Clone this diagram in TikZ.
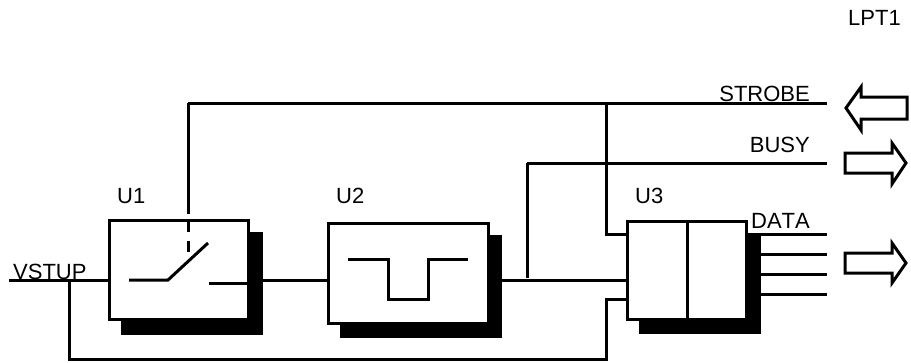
\documentclass[tikz,border=0pt]{standalone}
\usepackage{fontspec}
\setmainfont[Kerning=Off]{Liberation Sans}
\tikzset{
  wire/.style={line width=3pt},
  box/.style={draw,fill=white,line width=3pt,inner sep=0pt,outer sep=0pt},
  shade box/.style={fill=black,inner sep=0pt,outer sep=0pt},
  lbl/.style={anchor=base west,inner sep=0pt,font=\fontsize{22}{26}\selectfont},
  lblr/.style={anchor=base east,inner sep=0pt,font=\fontsize{22}{26}\selectfont},
  bigarrow/.style={line width=3pt,fill=white,line join=miter}
}
\begin{document}
\begin{tikzpicture}[x=1pt,y=-1pt]
\useasboundingbox (0,0) rectangle (911,362);
% named terminals and junctions
\coordinate (vin) at (9,280);
\coordinate (jv) at (69,280);
\coordinate (bl) at (69,359);
\coordinate (br) at (606,359);
\coordinate (u3c) at (627,299);
\coordinate (u3c0) at (606,299);
\coordinate (u3a) at (627,280);
\coordinate (jb) at (527,280);
\coordinate (bc) at (527,163);
\coordinate (be) at (827,163);
\coordinate (sc) at (188,103);
\coordinate (se) at (827,103);
\coordinate (js) at (606,103);
\coordinate (u3b0) at (606,234);
\coordinate (u3b) at (627,234);
\coordinate (d0) at (761,234);\coordinate (d0e) at (827,234);
\coordinate (d1) at (761,254);\coordinate (d1e) at (827,254);
\coordinate (d2) at (761,274);\coordinate (d2e) at (827,274);
\coordinate (d3) at (761,294);\coordinate (d3e) at (827,294);
\coordinate (s1) at (188,214);
\coordinate (s2) at (188,220);\coordinate (s3) at (188,232);
\coordinate (s4) at (188,241);\coordinate (s5) at (188,252);
% shadows
\node[shade box,minimum width=142pt,minimum height=103pt] (sh1) at (192,283.5) {};
\node[shade box,minimum width=162pt,minimum height=103pt] (sh2) at (421,286.5) {};
\node[shade box,minimum width=122pt,minimum height=101pt] (sh3) at (700,283.5) {};
% wires behind boxes
\draw[wire] (vin) -- (109,280);
\draw[wire] (263,280) -- (328,280);
\draw[wire] (502,280) -- (u3a);
\draw[wire] (jv) -- (bl) -- (br) -- (u3c0) -- (u3c);
\draw[wire] (sc) -- (se);
\draw[wire] (sc) -- (s1);
\draw[wire] (js) -- (u3b0) -- (u3b);
\draw[wire] (bc) -- (be);
\draw[wire] (bc) -- ([yshift=2pt]jb);
\draw[wire] (d0) -- (d0e);
\draw[wire] (d1) -- (d1e);
\draw[wire] (d2) -- (d2e);
\draw[wire] (d3) -- (d3e);
% boxes
\node[box,minimum width=139pt,minimum height=99pt] (U1) at (178.5,269.5) {};
\node[box,minimum width=160pt,minimum height=100pt] (U2) at (408,273) {};
\node[box,minimum width=119pt,minimum height=98pt] (U3) at (686.5,270) {};
\draw[wire] (U3.north) ++(0.5,0) -- ([xshift=0.5pt]U3.south);
% switch
\draw[wire] (s2) -- (s3);
\draw[wire] (s4) -- (s5);
\draw[wire] (129,280) -- (168,280) -- (208,243);
\draw[wire] (209,283) -- (248,283);
% pulse
\draw[wire] (348,259) -- (388,259) -- (388,299) -- (428,299) -- (428,259) -- (468,259);
% interface arrows
\draw[bigarrow] (846,108) -- (861,87) -- (861,97) -- (907,97) -- (907,119) -- (861,119) -- (861,130) -- cycle;
\draw[bigarrow] (906,163) -- (892,143) -- (892,153) -- (845,153) -- (845,173) -- (892,173) -- (892,184) -- cycle;
\draw[bigarrow] (906,263) -- (892,243) -- (892,253) -- (845,253) -- (845,273) -- (892,273) -- (892,283) -- cycle;
% labels
\node[lbl] (tU1) at (117,203) {U1};
\node[lbl] (tU2) at (336,203) {U2};
\node[lbl] (tU3) at (635,203) {U3};
\node[lbl] (tV) at (13,279) {VSTUP};
\node[lblr] (tS) at (810,101) {STROBE};
\node[lblr] (tB) at (810,152) {BUSY};
\node[lblr] (tD) at (810,228) {DATA};
\node[lbl] (tL) at (848,25) {LPT1};
\end{tikzpicture}
\end{document}
